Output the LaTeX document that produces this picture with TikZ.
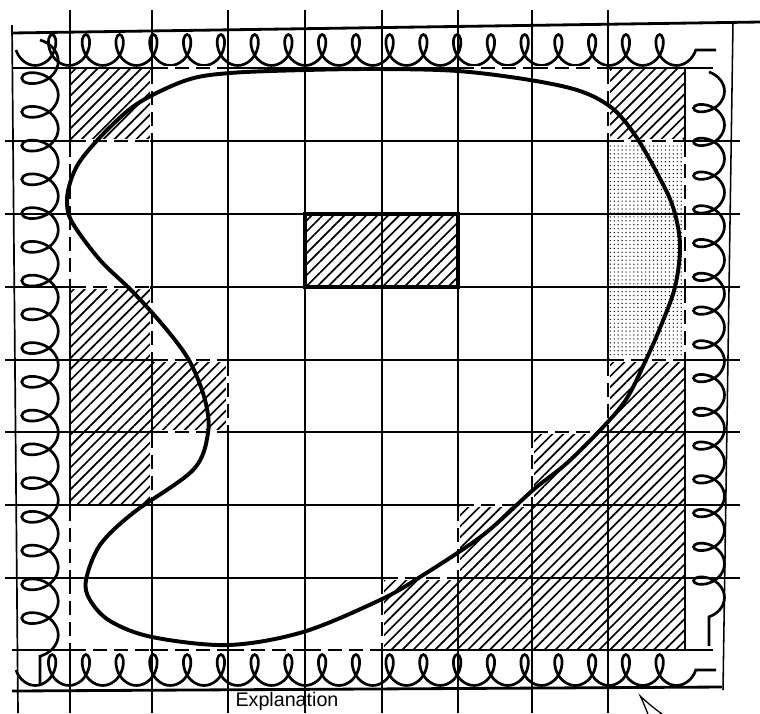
\documentclass[tikz,border=0pt]{standalone}
\usepackage{fontspec}
\setmainfont{Liberation Sans}
\usetikzlibrary{patterns.meta,decorations.pathmorphing,arrows.meta}

\begin{document}
\begin{tikzpicture}[x=0.025cm,y=-0.025cm,line width=1.8pt,
    hatchcell/.style={pattern={Lines[angle=45,distance=5.5pt,line width=1.2pt]}},
    dotcell/.style={pattern={Dots[distance=2.8pt,radius=0.5pt]}},
    squiggle/.style={line width=1.9pt,decorate,decoration={coil,amplitude=#1,segment length=24pt,aspect=0.7}},
    wipe/.style={white,line width=3pt,shorten <=1.4pt,shorten >=1.4pt},
    dashline/.style={dash pattern=on 10pt off 5pt,shorten <=1.4pt,shorten >=1.4pt}]
        \useasboundingbox (0,0) rectangle (760,713);
        \clip (0,0) rectangle (760,713);
        \path[hatchcell] (70,68) rectangle (152,141);
        \path[hatchcell] (608,68) rectangle (685,141);
        \path[hatchcell] (305,214) rectangle (458,287);
        \path[hatchcell] (70,287) rectangle (152,505);
        \path[hatchcell] (152,360) rectangle (228,432);
        \path[hatchcell] (608,360) rectangle (685,650);
        \path[hatchcell] (532,432) rectangle (608,650);
        \path[hatchcell] (458,505) rectangle (532,650);
        \path[hatchcell] (382,578) rectangle (458,650);
        \path[dotcell] (608,141) rectangle (685,360);
        \draw[squiggle=11pt,decoration={mirror}] (16,50) -- (716,50);
        \draw[squiggle=13pt] (40,40) -- (40,686);
        \draw[squiggle=11pt] (709,72) -- (709,646);
        \draw[squiggle=11pt,decoration={mirror}] (16,670) -- (716,670);
        \foreach \x in {70,152,228,305,382,458,532,608}
            \draw (\x,10) -- (\x,713);
        \draw (685,68) -- (685,650);
        \foreach \y in {141,214,287,360,432,505,578}
            \draw (5,\y) -- (740,\y);
        \draw (12,68) -- (713,68);
        \draw (12,650) -- (713,650);
        \foreach \xa/\ya/\xb/\yb in {152/68/228/68,458/68/532/68,532/68/608/68,
            70/141/152/141,608/141/685/141,70/287/152/287,152/360/228/360,
            608/360/685/360,152/432/228/432,532/432/608/432,458/505/532/505,
            382/578/458/578,70/650/152/650,152/650/228/650,228/650/305/650,
            305/650/382/650,70/141/70/214,70/214/70/287,70/505/70/578,
            70/578/70/650,152/68/152/141,152/287/152/360,152/432/152/505,
            228/360/228/432,382/578/382/650,458/505/458/578,532/432/532/505,
            608/68/608/141,608/360/608/432,685/141/685/214,685/214/685/287,
            685/287/685/360}{
            \draw[wipe] (\xa,\ya) -- (\xb,\yb);
            \draw[dashline] (\xa,\ya) -- (\xb,\yb);
        }
        \draw[line width=2.4pt] (305,214) rectangle (458,287);
        \draw[line width=2pt] (12,33) -- (760,22);
        \draw[line width=2pt] (12,691) -- (722,687);
        \draw[line width=1.2pt] (12,25) -- (18,713);
        \draw[line width=1.1pt] (733,22) -- (723,690);
        \draw[line width=2.8pt] plot[smooth cycle,tension=0.55] coordinates {
            (67,200) (72,177) (83,157) (110,127) (140,102) (187,80) (230,73)
            (305,70) (380,69) (458,71) (530,80) (580,91) (612,108) (635,135)
            (657,173) (673,207) (680,245) (675,287) (660,328) (645,362)
            (627,398) (605,425) (567,463) (533,490) (483,535) (420,577)
            (380,600) (303,632) (228,645) (152,637) (110,621) (90,600)
            (86,580) (100,545) (133,513) (193,470) (208,433) (205,400)
            (190,362) (167,330) (133,292) (100,260) (72,222)};
        \node[font=\fontsize{14}{16}\selectfont,anchor=base] (expl) at (287,706) {Explanation};
        \coordinate (tail) at (676,745);
        \coordinate (tip) at (638,693);
        \draw[line width=0.9pt,-{Latex[open,length=22pt,width=11pt]}] (tail) -- (tip);
    \end{tikzpicture}
\end{document}
